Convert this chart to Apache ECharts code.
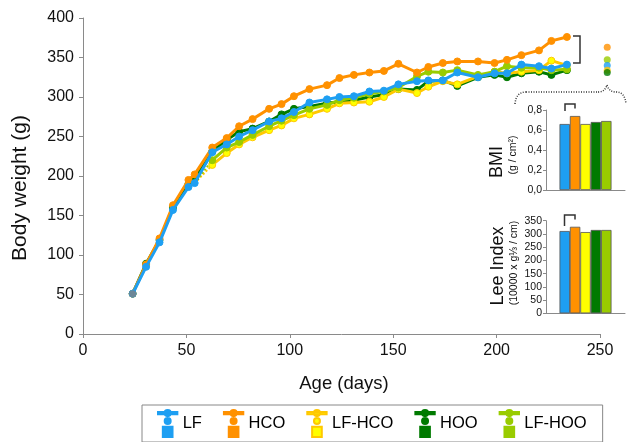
<!DOCTYPE html>
<html><head><meta charset="utf-8">
<script src="https://cdn.jsdelivr.net/npm/echarts@6/dist/echarts.min.js"></script>
<style>html,body{margin:0;padding:0;background:#fff}#c{width:631px;height:442px}</style>
</head><body><div id="c"></div>
<script>
const days = [24,30.5,37,43.5,51,54,62.5,69.5,75.5,82,90,96,102,109.5,118,124,131,138.5,145.5,152.5,161.5,167,174,181,191,199,205,212,220.5,226.5,234];
const lfVals  = [51,85,116,157,186,191,230,240,250,258,269,273,281,293,297,300,301,307,308,316,320,321,321,331,325,330,330,341,339,336,341];
const hcoVals = [51,88,121,163,195,202,236,248,263,272,285,291,301,310,315,324,328,331,333,342,331,338,343,345,345,343,347,353,359,371,376];
const hooVals = [51,89,119,160,190,197,231,246,256,260,269,278,285,288,292,294,296,300,303,310,309,320,321,314,325,328,325,330,332,328,334];
// switched groups: solid from index 6 on
const switchIndex = 6;
const lfHcoVals = [214,229,240,249,258,264,273,278,285,292,293,294,300,310,305,313,320,316,326,332,330,332,334,346,340];
const lfHooVals = [220,236,243,252,263,270,277,285,290,296,299,304,307,312,326,332,331,334,328,332,339,337,337,334,335];
const startDay = 24, startWeight = 51;
// summary end dots (order: HCO, LF-HOO, LF, LF-HCO, HOO)
const endDotDay = 253.5;
const endDotVals = [363,347,340,334,331];
const groups = ['LF','HCO','LF-HCO','HOO','LF-HOO'];
const bmiVals = [0.66,0.74,0.66,0.68,0.69];
const leeVals = [311,327,307,315,315];
const bmiTicks = [0,0.2,0.4,0.6,0.8];
const leeTicks = [0,50,100,150,200,250,300,350];

const col = {LF:'#1E9FF2', HCO:'#FF9100', 'LF-HCO':'#FFFF00', HOO:'#007A00', 'LF-HOO':'#99CC00'};
const lineCol = {LF:'#1E9FF2', HCO:'#FF9100', 'LF-HCO':'#FFC800', HOO:'#007A00', 'LF-HOO':'#99CC00'};
const FONT = 'Liberation Sans, Arial, sans-serif';

function pairs(vals, offset){ return vals.map((v,i)=>[days[i+offset], v]); }
const seriesData = {
  LF: pairs(lfVals,0), HCO: pairs(hcoVals,0), HOO: pairs(hooVals,0),
  'LF-HCO': pairs(lfHcoVals, switchIndex), 'LF-HOO': pairs(lfHooVals, switchIndex)
};

function lineSeries(name, z){
  return {name, type:'line', xAxisIndex:0, yAxisIndex:0, data: seriesData[name], z,
    symbol:'circle', symbolSize:7, showSymbol:true,
    lineStyle:{color:lineCol[name], width:3},
    itemStyle:{color:col[name], borderColor:lineCol[name], borderWidth:1}};
}
function bridge(vals, color){
  return {type:'line', xAxisIndex:0, yAxisIndex:0, symbol:'none', z:1,
    data:[[days[switchIndex-1], lfVals[switchIndex-1]],[days[switchIndex], vals[0]]],
    lineStyle:{color, width:2, type:[2,2]}};
}
const endDotColors = [col.HCO, col['LF-HOO'], col.LF, lineCol['LF-HCO'], col.HOO];

const legendIcon = 'path://M0,0.6 L20,0.6 L20,3 L0,3 Z M6.8,1.8 A3.2,3.2 0 1 1 13.2,1.8 A3.2,3.2 0 1 1 6.8,1.8 Z M6.9,10 A3.1,3.1 0 1 1 13.1,10 A3.1,3.1 0 1 1 6.9,10 Z M5,16 L15,16 L15,26.5 L5,26.5 Z';

const barSeries = [];
groups.forEach((g,i)=>{
  barSeries.push({name:g+' BMI', type:'bar', xAxisIndex:1, yAxisIndex:1, data:[bmiVals[i]], barWidth:10.4, barGap:'0%',
    itemStyle:{color:col[g], borderColor:'#555', borderWidth:0.8}});
  barSeries.push({name:g+' Lee', type:'bar', xAxisIndex:2, yAxisIndex:2, data:[leeVals[i]], barWidth:10.4, barGap:'0%',
    itemStyle:{color:col[g], borderColor:'#555', borderWidth:0.8}});
});

const dotted = {stroke:'#333', lineWidth:1.5, lineDash:[1,1.5], fill:null};
const solid = {stroke:'#333', lineWidth:1.5, fill:null};
const axisGray = '#8a8a8a';
const option = {
  animation:false,
  textStyle:{fontFamily:FONT},
  grid:[
    {left:83, top:18, width:517, height:316},
    {left:546, top:110, width:79, height:80},
    {left:546, top:220.7, width:79, height:92.6}
  ],
  xAxis:[
    {gridIndex:0, type:'value', min:0, max:250, interval:50, splitLine:{show:false},
      axisLine:{lineStyle:{color:axisGray}}, axisTick:{length:4, lineStyle:{color:axisGray}},
      axisLabel:{fontSize:16, color:'#111', margin:9, fontFamily:FONT}},
    {gridIndex:1, type:'category', data:[''], axisTick:{show:false}, axisLabel:{show:false}, axisLine:{lineStyle:{color:axisGray}}},
    {gridIndex:2, type:'category', data:[''], axisTick:{show:false}, axisLabel:{show:false}, axisLine:{lineStyle:{color:axisGray}}}
  ],
  yAxis:[
    {gridIndex:0, type:'value', min:0, max:400, interval:50, splitLine:{show:false},
      axisLine:{show:true, lineStyle:{color:axisGray}}, axisTick:{show:true, length:4, lineStyle:{color:axisGray}},
      axisLabel:{fontSize:16, color:'#111', margin:9, fontFamily:FONT}},
    {gridIndex:1, type:'value', min:bmiTicks[0], max:bmiTicks[bmiTicks.length-1], interval:0.2, splitLine:{show:false},
      axisLine:{show:true, lineStyle:{color:axisGray}}, axisTick:{show:true, length:3, lineStyle:{color:axisGray}},
      axisLabel:{fontSize:10.5, color:'#111', margin:4, fontFamily:FONT, formatter:v=>v.toFixed(1).replace('.',',')}},
    {gridIndex:2, type:'value', min:leeTicks[0], max:leeTicks[leeTicks.length-1], interval:50, splitLine:{show:false},
      axisLine:{show:true, lineStyle:{color:axisGray}}, axisTick:{show:true, length:3, lineStyle:{color:axisGray}},
      axisLabel:{fontSize:10.5, color:'#111', margin:4, fontFamily:FONT}}
  ],
  legend:{
    data:groups, left:142, top:405, orient:'horizontal', icon:legendIcon,
    itemWidth:20, itemHeight:27, itemGap:21, padding:[4,16,4,15],
    borderColor:'#888', borderWidth:1, borderRadius:0,
    textStyle:{fontSize:16.5, color:'#000', fontFamily:FONT}
  },
  series:[
    bridge(lfHcoVals, lineCol['LF-HCO']),
    bridge(lfHooVals, col['LF-HOO']),
    lineSeries('HOO', 2),
    lineSeries('LF-HCO', 3),
    lineSeries('LF-HOO', 4),
    lineSeries('HCO', 5),
    lineSeries('LF', 6),
    {type:'scatter', xAxisIndex:0, yAxisIndex:0, z:7, symbolSize:7, data:[[startDay,startWeight]], itemStyle:{color:'#808080'}},
    {type:'scatter', xAxisIndex:0, yAxisIndex:0, z:7, symbolSize:7, clip:false,
      data:endDotVals.map((v,i)=>({value:[endDotDay,v], itemStyle:{color:endDotColors[i]}}))},
    ...barSeries
  ],
  graphic:[
    {type:'text', x:20, y:188, rotation:Math.PI/2, style:{text:'Body weight (g)', fontSize:21, fontFamily:FONT, fill:'#111', textAlign:'center', textVerticalAlign:'middle'}},
    {type:'text', x:344, y:384, style:{text:'Age (days)', fontSize:18.5, fontFamily:FONT, fill:'#111', textAlign:'center', textVerticalAlign:'middle'}},
    {type:'text', x:497, y:162, rotation:Math.PI/2, style:{text:'BMI', fontSize:18, fontFamily:FONT, fill:'#111', textAlign:'center', textVerticalAlign:'middle'}},
    {type:'text', x:513.5, y:155, rotation:Math.PI/2, style:{text:'(g / cm²)', fontSize:10.5, fontFamily:FONT, fill:'#111', textAlign:'center', textVerticalAlign:'middle'}},
    {type:'text', x:498, y:266, rotation:Math.PI/2, style:{text:'Lee Index', fontSize:18, fontFamily:FONT, fill:'#111', textAlign:'center', textVerticalAlign:'middle'}},
    {type:'text', x:514, y:263, rotation:Math.PI/2, style:{text:'(10000 x g⅓ / cm)', fontSize:10.5, fontFamily:FONT, fill:'#111', textAlign:'center', textVerticalAlign:'middle'}},
    {type:'polyline', shape:{points:[[573,36],[580,36],[580,63],[573,63]]}, style:solid},
    {type:'bezierCurve', shape:{x1:515,y1:104,x2:526,y2:92,cpx1:516,cpy1:92}, style:dotted},
    {type:'line', shape:{x1:526,y1:92,x2:598,y2:92}, style:dotted},
    {type:'bezierCurve', shape:{x1:598,y1:92,x2:607,y2:85,cpx1:605,cpy1:92}, style:dotted},
    {type:'bezierCurve', shape:{x1:607,y1:85,x2:616,y2:92,cpx1:609,cpy1:92}, style:dotted},
    {type:'bezierCurve', shape:{x1:616,y1:92,x2:626,y2:104,cpx1:625,cpy1:92}, style:dotted},
    {type:'polyline', shape:{points:[[565,111],[565,104],[575,104],[575,108.5]]}, style:solid},
    {type:'polyline', shape:{points:[[564.5,226],[564.5,215],[575,215],[575,219.5]]}, style:solid}
  ]
};
const chart = echarts.init(document.getElementById('c'), null, {renderer:'canvas'});
chart.setOption(option);
</script></body></html>
